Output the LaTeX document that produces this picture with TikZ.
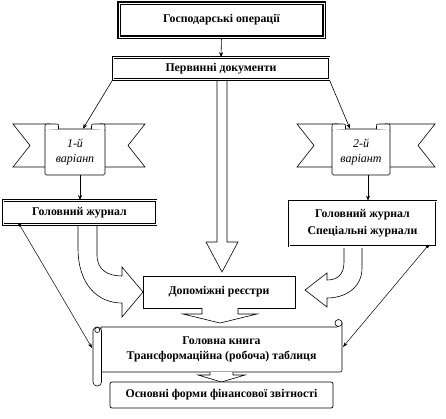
\documentclass[tikz,border=0pt]{standalone}
\usepackage{fontspec}
\setmainfont{Liberation Serif}
\usetikzlibrary{arrows.meta,calc}
\begin{document}
\begin{tikzpicture}[x=1pt,y=-1pt,
  lbl/.style={inner sep=0pt, align=center, font=\fontsize{11.8}{13}\selectfont\bfseries},
  box/.style={lbl, draw, fill=white, line width=0.7pt},
  dbl/.style={lbl, draw, fill=white, line width=0.8pt, double=white, double distance=1pt},
  dblthick/.style={lbl, draw, fill=white, line width=1.5pt, double=white, double distance=0.7pt},
  arr/.style={-{Stealth[length=5pt,width=4pt]}, line width=0.6pt},
  thinarr/.style={-{Stealth[length=5pt,width=3.5pt]}, line width=0.5pt},
  hollow/.style={draw, line width=0.6pt, fill=white, line join=miter},
  tail/.style={draw, line width=0.6pt, fill=white},
  card/.style={draw, fill=white, line width=0.6pt, rounded corners=1.5pt, inner sep=0pt, align=center, font=\fontsize{12}{15}\selectfont\itshape},
  dot/.style={circle, fill=black, inner sep=0pt, minimum size=3.5pt}
]
\fill[white] (0,0) rectangle (446,418);
\useasboundingbox (0,0) rectangle (446,418);

% top boxes
\node[dblthick, minimum width=205pt, minimum height=34pt] (ops) at (221.5,20) {Господарські операції};

% central long hollow arrow
\draw[hollow] (217,80) -- (217,242) -- (206,242) -- (222,272) -- (238,242) -- (227,242) -- (227,80);
\node[dbl, minimum width=216pt, minimum height=22pt] (perv) at (221,68.5) {Первинні документи};

% left ribbon
\draw[tail] (13,124) -- (50,124) -- (50,167) -- (13,167) -- (30,145.5) -- cycle;
\draw[tail] (100,124) -- (145,124) -- (128,145.5) -- (145,167) -- (100,167) -- cycle;
\node[card, minimum width=60pt, minimum height=46pt] (card1) at (75,152) {1-й\\варіанп};
\draw[line width=0.6pt, fill=white] (45,130) -- (45,126.5) .. controls (45,124) .. (47.5,124) -- (56,124) .. controls (58.5,124) .. (58.5,126.5) -- (58.5,129);
\draw[line width=0.6pt, fill=white] (91.5,129) -- (91.5,126.5) .. controls (91.5,124) .. (94,124) -- (102.5,124) .. controls (105,124) .. (105,126.5) -- (105,130);

% right ribbon
\draw[tail] (297,124) -- (338,124) -- (338,167) -- (297,167) -- (314,145.5) -- cycle;
\draw[tail] (385,124) -- (435,124) -- (418,145.5) -- (435,167) -- (385,167) -- cycle;
\node[card, minimum width=58pt, minimum height=46pt] (card2) at (361,152) {2-й\\варіант};
\draw[line width=0.6pt, fill=white] (332,130) -- (332,126.5) .. controls (332,124) .. (334.5,124) -- (343,124) .. controls (345.5,124) .. (345.5,126.5) -- (345.5,129);
\draw[line width=0.6pt, fill=white] (376.5,129) -- (376.5,126.5) .. controls (376.5,124) .. (379,124) -- (387.5,124) .. controls (390,124) .. (390,126.5) -- (390,130);

% journals
\node[dbl, minimum width=153pt, minimum height=24pt] (lj) at (79.5,212.5) {Головний журнал};
\node[dbl, minimum width=147pt, minimum height=45pt, font=\fontsize{11.8}{17}\selectfont\bfseries] (rj) at (362.5,223.5) {Головний журнал\\Спеціальні журнали};

% auxiliary registers
\node[box, minimum width=152pt, minimum height=32pt] (dop) at (219,292) {Допоміжні реєстри};

% curved hollow arrows
\draw[hollow] (78,226) -- (78,248) .. controls (78,285) and (98,303) .. (122,303) -- (122,317) -- (143,292) -- (122,267) -- (122,276) .. controls (108,276) and (97,270) .. (97,255) -- (97,226);
\draw[hollow] (362,248) -- (362,268) .. controls (362,288) and (345,298) .. (327,298) -- (327,307) -- (305,290) -- (327,273) -- (327,280) .. controls (337,280) and (344,275) .. (344,262) -- (344,248);

% scroll (main ledger)
\draw[line width=0.6pt, fill=white] (101,327) -- (337,327) -- (342,323) -- (342,368) .. controls (342,372) .. (338,372) -- (101,372) -- cycle;
\draw[line width=0.6pt, fill=white] (338.5,323) circle[radius=3.5pt];
\draw[line width=0.6pt, fill=white, rounded corners=4pt] (93,327) rectangle (101.5,386);
\draw[line width=0.6pt] (97.25,330) circle[radius=2.5pt];
\node[lbl, font=\fontsize{11.8}{15}\selectfont\bfseries, minimum width=241pt, minimum height=45pt] (book) at (221.5,349.5) {Головна книга\\Трансформаційна (робоча) таблиця};

% short hollow arrows
\draw[hollow] (202,308) -- (202,314) -- (183,314) -- (220,323) -- (257,314) -- (238,314) -- (238,308);
\draw[hollow] (210,372) -- (210,375) -- (198,375) -- (221.5,382) -- (245,375) -- (233,375) -- (233,372);

% financial statements
\node[box, rounded corners=2pt, minimum width=223pt, minimum height=26pt] (fin) at (221.5,395) {Основні форми фінансової звітності};

% thin connectors
\draw[arr] (ops.south) -- (perv.north);
\draw[arr] (perv.south west) -- ($(card1.north)+(8,0)$);
\draw[arr] (perv.south east) -- ($(card2.north)+(-11,0)$);
\coordinate (c1b) at ($(card1.south)+(5,0)$);
\draw[arr] (c1b) -- (c1b |- lj.north);
\coordinate (c2b) at ($(card2.south)+(7,0)$);
\draw[arr] (c2b) -- (c2b |- rj.north);

\coordinate (lstart) at ($(lj.south west)+(17,0)$);
\coordinate (lend) at (92,348);
\node[dot] (ld) at (lstart) {};
\draw[thinarr] (ld.center) -- (lend);
\coordinate (rstart) at ($(rj.south east)+(-9,0)$);
\coordinate (rend) at (343,347);
\node[dot] (rd) at (rstart) {};
\draw[thinarr] (rd.center) -- (rend);
\end{tikzpicture}
\end{document}
